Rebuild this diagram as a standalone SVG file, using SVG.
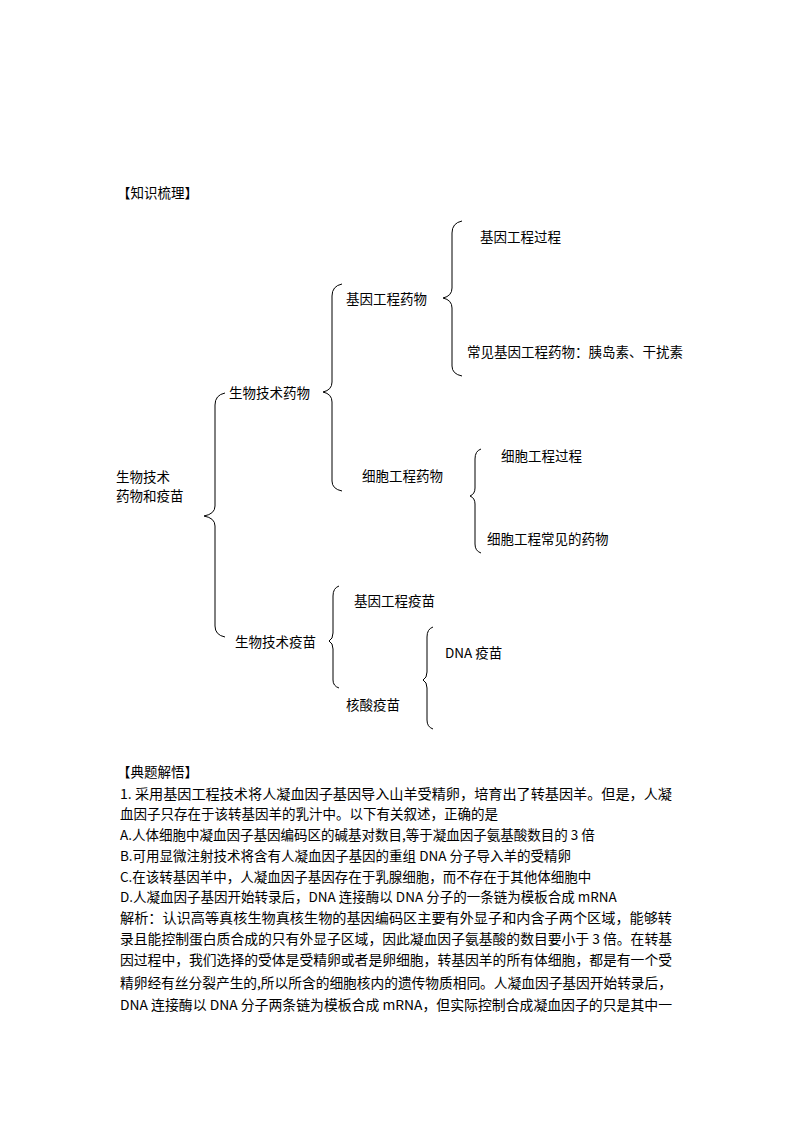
<svg xmlns="http://www.w3.org/2000/svg" width="794" height="1123" viewBox="0 0 794 1123">
<style>
text{font-family:"Noto Sans CJK SC","Liberation Sans",sans-serif;font-size:13.5px;fill:#000}
.b{fill:none;stroke:#000;stroke-width:1}
</style>
<rect width="794" height="1123" fill="#fff"/>
<text x="117" y="198">【知识梳理】</text>
<g id="connectors">
<path class="b" d="M225,393 Q215,395 215,405 L215,506 Q215,514 204,516 Q215,518 215,526 L215,626 Q215,635 225,637"/>
<path class="b" d="M342,284 Q332,286 332,296 L332,382 Q332,390 323,392 Q332,394 332,402 L332,481 Q332,489 342,491"/>
<path class="b" d="M462,221 Q452,223 452,233 L452,288 Q452,296 443,298 Q452,300 452,308 L452,366 Q452,374 462,376"/>
<path class="b" d="M481,449 Q475,451 475,459 L475,488 Q475,494 470,496 Q475,498 475,504 L475,544 Q475,551 481,553"/>
<path class="b" d="M339,586 Q333,588 333,596 L333,633 Q333,639 329,641 Q333,643 333,649 L333,680 Q333,686 339,688"/>
<path class="b" d="M433,627 Q427,629 427,637 L427,672 Q427,678 423,680 Q427,682 427,688 L427,720 Q427,727 433,729"/>
</g>
<g id="root"><text x="116" y="482">生物技术</text><text x="116" y="501">药物和疫苗</text></g>
<g id="n1"><text x="229" y="398">生物技术药物</text></g>
<g id="n2"><text x="346" y="304">基因工程药物</text></g>
<g id="n3"><text x="480" y="242">基因工程过程</text></g>
<g id="n4"><text x="467" y="357">常见基因工程药物：胰岛素、干扰素</text></g>
<g id="n5"><text x="362" y="481">细胞工程药物</text></g>
<g id="n6"><text x="501" y="461">细胞工程过程</text></g>
<g id="n7"><text x="487" y="544">细胞工程常见的药物</text></g>
<g id="n8"><text x="354" y="606">基因工程疫苗</text></g>
<g id="n9"><text x="235" y="647">生物技术疫苗</text></g>
<g id="n10"><text x="445" y="658">DNA 疫苗</text></g>
<g id="n11"><text x="346" y="710">核酸疫苗</text></g>
<text x="117" y="777">【典题解悟】</text>
<text x="120" y="799" textLength="552" lengthAdjust="spacingAndGlyphs">1.  采用基因工程技术将人凝血因子基因导入山羊受精卵，培育出了转基因羊。但是，人凝</text>
<text x="120" y="819">血因子只存在于该转基因羊的乳汁中。以下有关叙述，正确的是</text>
<text x="120" y="840">A.人体细胞中凝血因子基因编码区的碱基对数目,等于凝血因子氨基酸数目的 3 倍</text>
<text x="120" y="861">B.可用显微注射技术将含有人凝血因子基因的重组 DNA 分子导入羊的受精卵</text>
<text x="120" y="882">C.在该转基因羊中，人凝血因子基因存在于乳腺细胞，而不存在于其他体细胞中</text>
<text x="120" y="902">D.人凝血因子基因开始转录后，DNA 连接酶以 DNA 分子的一条链为模板合成 mRNA</text>
<text x="120" y="923" textLength="552" lengthAdjust="spacingAndGlyphs">解析：认识高等真核生物真核生物的基因编码区主要有外显子和内含子两个区域，能够转</text>
<text x="120" y="944" textLength="552" lengthAdjust="spacingAndGlyphs">录且能控制蛋白质合成的只有外显子区域，因此凝血因子氨基酸的数目要小于 3 倍。在转基</text>
<text x="120" y="965" textLength="552" lengthAdjust="spacingAndGlyphs">因过程中，我们选择的受体是受精卵或者是卵细胞，转基因羊的所有体细胞，都是有一个受</text>
<text x="120" y="988" textLength="552" lengthAdjust="spacingAndGlyphs">精卵经有丝分裂产生的,所以所含的细胞核内的遗传物质相同。人凝血因子基因开始转录后，</text>
<text x="120" y="1010" textLength="552" lengthAdjust="spacingAndGlyphs">DNA 连接酶以 DNA 分子两条链为模板合成 mRNA，但实际控制合成凝血因子的只是其中一</text>
</svg>
